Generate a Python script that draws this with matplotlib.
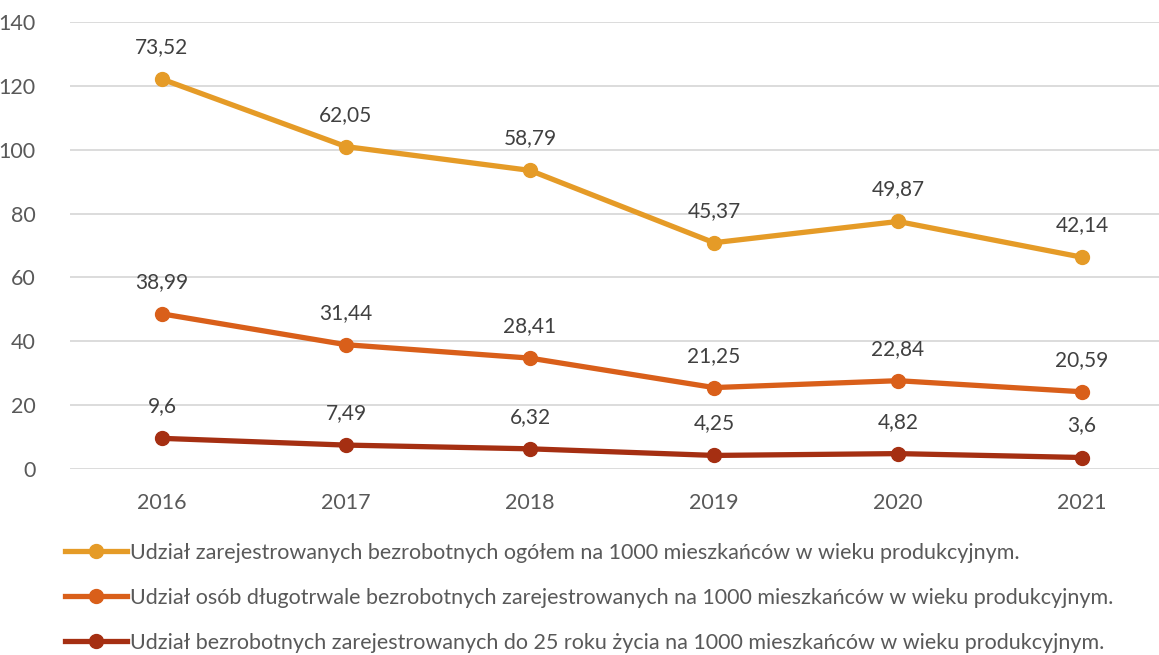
import numpy as np
import matplotlib
matplotlib.use("Agg")
import matplotlib.pyplot as plt
from matplotlib.lines import Line2D

years = ["2016", "2017", "2018", "2019", "2020", "2021"]
under25 = [9.6, 7.49, 6.32, 4.25, 4.82, 3.6]
longterm = [38.99, 31.44, 28.41, 21.25, 22.84, 20.59]
total = [73.52, 62.05, 58.79, 45.37, 49.87, 42.14]
names = [
    "Udział zarejestrowanych bezrobotnych ogółem na 1000 mieszkańców w wieku produkcyjnym.",
    "Udział osób długotrwale bezrobotnych zarejestrowanych na 1000 mieszkańców w wieku produkcyjnym.",
    "Udział bezrobotnych zarejestrowanych do 25 roku życia na 1000 mieszkańców w wieku produkcyjnym.",
]
colors = ["#E59B27", "#D95F1A", "#A52F12"]
yticks = [0, 20, 40, 60, 80, 100, 120, 140]

plt.rcParams['font.family'] = ['Lato', 'DejaVu Sans']
txt = "#595959"

fig = plt.figure(figsize=(11.59, 6.55), dpi=100)
ax = fig.add_axes([70/1159, 1-469/655, 1-70/1159, (469-22)/655])

# stacked line chart (bottom series first)
series_bottom_up = [under25, longterm, total]
cols_bottom_up = [colors[2], colors[1], colors[0]]
stack = np.cumsum(np.array(series_bottom_up), axis=0)
x = np.arange(len(years))
for vals, cum, c in zip(series_bottom_up, stack, cols_bottom_up):
    ax.plot(x, cum, color=c, lw=3.8, marker='o', ms=10, solid_capstyle='round', zorder=3)
    for xi, yi, v in zip(x, cum, vals):
        lab = f"{v:g}".replace('.', ',')
        ax.annotate(lab, (xi, yi), xytext=(0, 23), textcoords='offset points',
                    ha='center', va='center', fontsize=15, color="#404040", zorder=4)

ax.set_ylim(0, 140)
ax.set_yticks(yticks)
ax.set_xlim(-0.5, (1159-70)/184 - 0.5)
ax.set_xticks(x)
ax.set_xticklabels(years)
ax.grid(axis='y', color='#D9D9D9', lw=1.3)
ax.set_axisbelow(True)
for s in ax.spines.values():
    s.set_visible(False)
ax.tick_params(axis='both', length=0, labelsize=15.5, colors=txt)
ax.tick_params(axis='x', pad=17)
ax.tick_params(axis='y', pad=25)
for lab in ax.get_yticklabels():
    lab.set_horizontalalignment('right')

handles = [Line2D([0], [0], color=c, lw=3.8, marker='o', ms=10) for c in colors]
leg = fig.legend(handles, names, loc='upper left', bbox_to_anchor=(56/1159, 1-534/655),
                 frameon=False, fontsize=15.5, labelcolor=txt, handlelength=2.9,
                 handletextpad=0.15, labelspacing=1.17, borderaxespad=0)

fig.savefig("out.png", dpi=100)
